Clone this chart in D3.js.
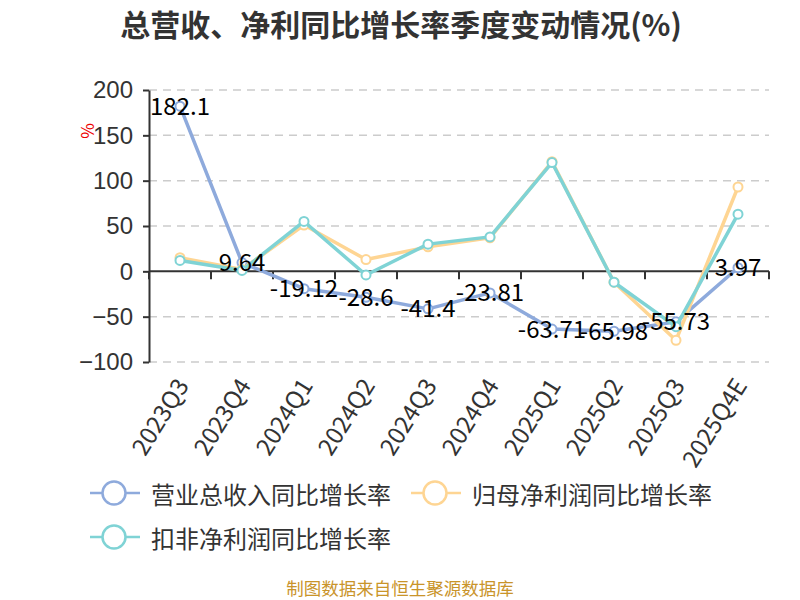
<!DOCTYPE html>
<html>
<head>
<meta charset="utf-8">
<script src="https://cdn.jsdelivr.net/npm/d3@7/dist/d3.min.js"></script>
<style>
  body { margin: 0; background: #fff; }
  svg { font-family: "Noto Sans CJK SC", "Noto Sans", sans-serif; }
</style>
</head>
<body>
<div id="chart"></div>
<script>
'use strict';

const quarters = ['2023Q3', '2023Q4', '2024Q1', '2024Q2', '2024Q3', '2024Q4', '2025Q1', '2025Q2', '2025Q3', '2025Q4E'];
const revenueGrowth = [182.1, 9.64, -19.12, -28.6, -41.4, -23.81, -63.71, -65.98, -55.73, 3.97];
const netProfitGrowth = [15, 2, 51, 13, 27, 37, 121, -12, -76, 93];
const deductedProfitGrowth = [12, 1, 55, -4, 30, 38, 120, -12, -61, 63];
const yTicks = [-100, -50, 0, 50, 100, 150, 200];
const seriesNames = ['营业总收入同比增长率', '归母净利润同比增长率', '扣非净利润同比增长率'];
const seriesColors = ['#8eaadc', '#fed593', '#7fd3d5'];

const width = 800, height = 600;
const margin = { top: 90, right: 31, bottom: 238, left: 149 };
const plotWidth = width - margin.left - margin.right;
const plotHeight = height - margin.top - margin.bottom;

const svg = d3.select('#chart').append('svg')
  .attr('width', width)
  .attr('height', height);

svg.append('text')
  .attr('x', 401)
  .attr('y', 23)
  .attr('text-anchor', 'middle')
  .attr('dominant-baseline', 'central')
  .attr('font-size', 30)
  .attr('font-weight', 'bold')
  .attr('fill', '#333')
  .text('总营收、净利同比增长率季度变动情况(%)');

const plot = svg.append('g')
  .attr('transform', `translate(${margin.left}, ${margin.top})`);

const xScale = d3.scaleBand()
  .domain(quarters)
  .range([0, plotWidth]);

const yScale = d3.scaleLinear()
  .domain([-100, 200])
  .range([plotHeight, 0]);

// dashed grid
plot.append('g')
  .selectAll('line')
  .data(yTicks.filter((d) => d !== 0))
  .enter().append('line')
    .attr('x1', 0)
    .attr('x2', plotWidth)
    .attr('y1', (d) => yScale(d))
    .attr('y2', (d) => yScale(d))
    .attr('stroke', '#ccc')
    .attr('stroke-width', 1.5)
    .attr('stroke-dasharray', '8,6');

// y axis
const yAxis = plot.append('g')
  .call(d3.axisLeft(yScale).tickValues(yTicks).tickSize(6).tickPadding(10).tickSizeOuter(0));
yAxis.select('.domain').attr('stroke', '#333').attr('stroke-width', 2);
yAxis.selectAll('.tick line').attr('stroke', '#333').attr('stroke-width', 2);
yAxis.selectAll('text')
  .attr('font-size', 24)
  .attr('fill', '#333');

svg.append('text')
  .attr('transform', 'translate(86, 131) rotate(-90)')
  .attr('text-anchor', 'middle')
  .attr('dominant-baseline', 'central')
  .attr('font-size', 17)
  .attr('fill', '#e00')
  .text('%');

// x axis at zero
const xAxis = plot.append('g')
  .attr('transform', `translate(0, ${yScale(0)})`);
xAxis.append('line')
  .attr('x1', 0)
  .attr('x2', plotWidth)
  .attr('stroke', '#333')
  .attr('stroke-width', 2);
xAxis.selectAll('.xtick')
  .data(d3.range(quarters.length + 1))
  .enter().append('line')
    .attr('class', 'xtick')
    .attr('x1', (i) => i * xScale.step())
    .attr('x2', (i) => i * xScale.step())
    .attr('y1', 0)
    .attr('y2', 8)
    .attr('stroke', '#333')
    .attr('stroke-width', 2);

plot.append('g')
  .selectAll('text')
  .data(quarters)
  .enter().append('text')
    .attr('transform', (d) => `translate(${xScale(d) + xScale.bandwidth() / 2 + 1}, ${plotHeight + 18}) rotate(-58)`)
    .attr('text-anchor', 'end')
    .attr('dominant-baseline', 'central')
    .attr('font-size', 24)
    .attr('fill', '#333')
    .text((d) => d);

// lines
const allSeries = [revenueGrowth, netProfitGrowth, deductedProfitGrowth];
const cx = (i) => xScale(quarters[i]) + xScale.bandwidth() / 2;
const line = d3.line()
  .x((d, i) => cx(i))
  .y((d) => yScale(d));

allSeries.forEach((values, s) => {
  const g = plot.append('g');
  g.append('path')
    .datum(values)
    .attr('d', line)
    .attr('fill', 'none')
    .attr('stroke', seriesColors[s])
    .attr('stroke-width', 3.5)
    .attr('stroke-linejoin', 'round');
  g.selectAll('circle')
    .data(values)
    .enter().append('circle')
      .attr('cx', (d, i) => cx(i))
      .attr('cy', (d) => yScale(d))
      .attr('r', 4.5)
      .attr('fill', '#fff')
      .attr('stroke', seriesColors[s])
      .attr('stroke-width', 2);
});

// value labels for revenue
plot.append('g')
  .selectAll('text')
  .data(revenueGrowth)
  .enter().append('text')
    .attr('x', (d, i) => cx(i))
    .attr('y', (d) => yScale(d) - 2)
    .attr('text-anchor', 'middle')
    .attr('dominant-baseline', 'central')
    .attr('font-size', 24)
    .attr('fill', '#000')
    .text((d) => d);

// legend
const legendItems = [
  { x: 90, y: 493 },
  { x: 411, y: 493 },
  { x: 90, y: 537 }
];
const legend = svg.append('g');
legendItems.forEach((p, s) => {
  const item = legend.append('g').attr('transform', `translate(${p.x}, ${p.y})`);
  item.append('line')
    .attr('x1', 0)
    .attr('x2', 50)
    .attr('stroke', seriesColors[s])
    .attr('stroke-width', 2.5);
  item.append('circle')
    .attr('cx', 24)
    .attr('r', 11.5)
    .attr('fill', '#fff')
    .attr('stroke', seriesColors[s])
    .attr('stroke-width', 2.5);
  item.append('text')
    .attr('x', 61)
    .attr('dominant-baseline', 'central')
    .attr('font-size', 24)
    .attr('fill', '#333')
    .text(seriesNames[s]);
});

svg.append('text')
  .attr('x', 400)
  .attr('y', 587)
  .attr('text-anchor', 'middle')
  .attr('dominant-baseline', 'central')
  .attr('font-size', 17.5)
  .attr('fill', '#c9942a')
  .text('制图数据来自恒生聚源数据库');
</script>
</body>
</html>
